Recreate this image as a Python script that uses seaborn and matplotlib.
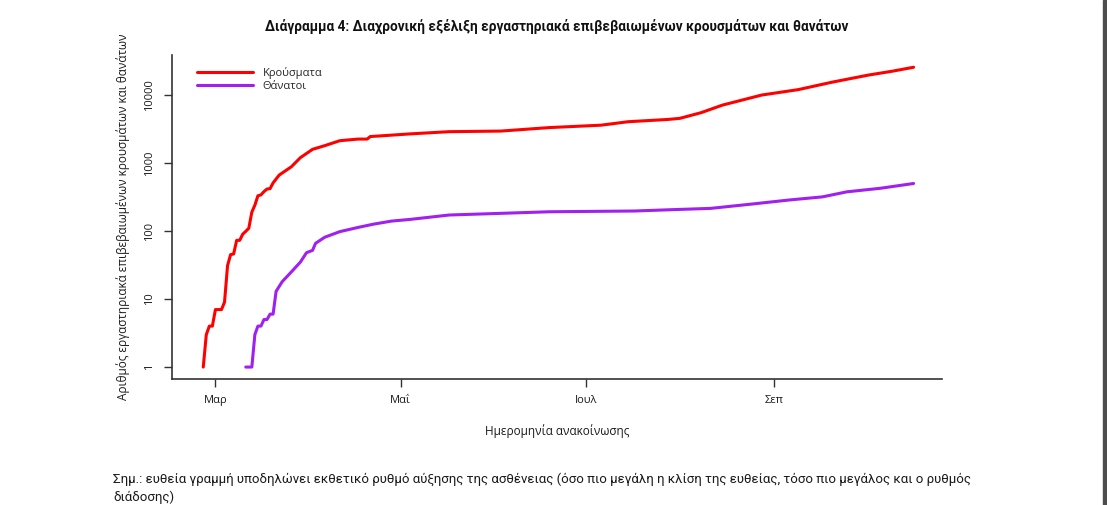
import pandas as pd
import matplotlib
matplotlib.use("Agg")
import matplotlib.pyplot as plt
from matplotlib.patches import Rectangle
import seaborn as sns

# values (cumulative, log scale)
case_dates = ["2020-02-26", "2020-02-27", "2020-02-28", "2020-02-29", "2020-03-01",
              "2020-03-03", "2020-03-04", "2020-03-05", "2020-03-06", "2020-03-07",
              "2020-03-08", "2020-03-09", "2020-03-10", "2020-03-11", "2020-03-12",
              "2020-03-13", "2020-03-14", "2020-03-15", "2020-03-16", "2020-03-17",
              "2020-03-18", "2020-03-19", "2020-03-20", "2020-03-22", "2020-03-26",
              "2020-03-29", "2020-04-02", "2020-04-06", "2020-04-11", "2020-04-17",
              "2020-04-20", "2020-04-21", "2020-04-28", "2020-05-04", "2020-05-17",
              "2020-06-03", "2020-06-19", "2020-07-06", "2020-07-15", "2020-07-28",
              "2020-08-01", "2020-08-08", "2020-08-15", "2020-08-28", "2020-09-09",
              "2020-09-20", "2020-10-02", "2020-10-10", "2020-10-17"]
case_values = [1, 3, 4, 4, 7,
               7, 9, 31, 45, 46,
               73, 73, 90, 99, 110,
               190, 240, 330, 340, 380,
               415, 420, 510, 665, 880,
               1200, 1590, 1800, 2130, 2250,
               2250, 2450, 2570, 2680, 2890,
               2950, 3320, 3600, 4050, 4370,
               4540, 5500, 7100, 10000, 12000,
               15400, 19600, 22400, 25600]

death_dates = ["2020-03-11", "2020-03-13", "2020-03-14", "2020-03-15", "2020-03-16",
               "2020-03-17", "2020-03-18", "2020-03-19", "2020-03-20", "2020-03-21",
               "2020-03-23", "2020-03-26", "2020-03-29", "2020-03-31", "2020-04-02",
               "2020-04-03", "2020-04-06", "2020-04-11", "2020-04-17", "2020-04-22",
               "2020-04-28", "2020-05-04", "2020-05-17", "2020-06-03", "2020-06-19",
               "2020-07-17", "2020-08-01", "2020-08-08", "2020-08-11", "2020-08-25",
               "2020-09-06", "2020-09-17", "2020-09-25", "2020-10-06", "2020-10-17"]
death_values = [1, 1, 3, 4, 4,
                5, 5, 6, 6, 13,
                18, 25, 35, 48, 52,
                66, 81, 98, 113, 126,
                140, 148, 172, 182, 192,
                197, 208, 213, 215, 250,
                286, 318, 377, 425, 500]

series_names = ["Κρούσματα", "Θάνατοι"]
series_colors = ["#FF0000", "#A020F0"]
y_ticks = [1, 10, 100, 1000, 10000]
x_tick_dates = ["2020-03-01", "2020-05-01", "2020-07-01", "2020-09-01"]
x_tick_labels = ["Μαρ", "Μαΐ", "Ιουλ", "Σεπ"]

df = pd.concat([
    pd.DataFrame({"date": pd.to_datetime(case_dates), "value": case_values, "series": series_names[0]}),
    pd.DataFrame({"date": pd.to_datetime(death_dates), "value": death_values, "series": series_names[1]}),
])

sns.set_style("white")
plt.rcParams["font.family"] = ["Open Sans", "DejaVu Sans"]

fig = plt.figure(figsize=(11.07, 5.05), dpi=100)
ax = fig.add_axes([0.1554, 0.250, 0.6957, 0.641])

sns.lineplot(data=df, x="date", y="value", hue="series", hue_order=series_names,
             palette=dict(zip(series_names, series_colors)), linewidth=2.2, ax=ax,
             estimator=None, sort=True)

ax.set_yscale("log")
ax.set_ylim(0.673, 38700)
ax.set_xlim(pd.Timestamp("2020-02-15 17:00"), pd.Timestamp("2020-10-26 10:00"))

ax.set_yticks(y_ticks)
ax.set_yticklabels([str(v) for v in y_ticks], rotation=90, va="center", fontsize=8)
ax.yaxis.set_minor_locator(matplotlib.ticker.NullLocator())
ax.set_xticks(pd.to_datetime(x_tick_dates))
ax.set_xticklabels(x_tick_labels, fontsize=8)

ax.tick_params(axis="both", which="major", direction="out", length=6, width=1,
               color="#333333", labelcolor="#1a1a1a", left=True, bottom=True, pad=6)
for side in ["top", "right"]:
    ax.spines[side].set_visible(False)
for side in ["left", "bottom"]:
    ax.spines[side].set_color("#333333")
    ax.spines[side].set_linewidth(1.2)

ax.set_xlabel("Ημερομηνία ανακοίνωσης", fontsize=8.5, color="#1a1a1a", labelpad=13)
ax.set_ylabel("Αριθμός εργαστηριακά επιβεβαιωμένων κρουσμάτων και θανάτων",
              fontsize=8.5, color="#1a1a1a", labelpad=10)

leg = ax.legend(loc="upper left", bbox_to_anchor=(0.027, 0.977), frameon=False,
                fontsize=8, handlelength=5, handletextpad=0.9, labelspacing=0.2,
                borderaxespad=0)

fig.text(0.503, 0.947, "Διάγραμμα 4: Διαχρονική εξέλιξη εργαστηριακά επιβεβαιωμένων κρουσμάτων και θανάτων",
         ha="center", va="center", fontsize=9.8, fontweight="bold", color="#111111",
         family=["Roboto", "DejaVu Sans"])
note_font = ["Roboto", "DejaVu Sans"]
fig.text(113 / 1107, 1 - 479 / 505,
         "Σημ.: ευθεία γραμμή υποδηλώνει εκθετικό ρυθμό αύξησης της ασθένειας (όσο πιο μεγάλη η κλίση της ευθείας, τόσο πιο μεγάλος και ο ρυθμός",
         ha="left", va="center", fontsize=9.5, color="#1a1a1a", family=note_font)
fig.text(113 / 1107, 1 - 497 / 505, "διάδοσης)",
         ha="left", va="center", fontsize=9.5, color="#1a1a1a", family=note_font)

fig.patches.append(Rectangle((1103 / 1107, 0), 4 / 1107, 1, transform=fig.transFigure,
                             color="#4d4d4d", zorder=10))

fig.savefig("out.png", dpi=100, facecolor="white")
